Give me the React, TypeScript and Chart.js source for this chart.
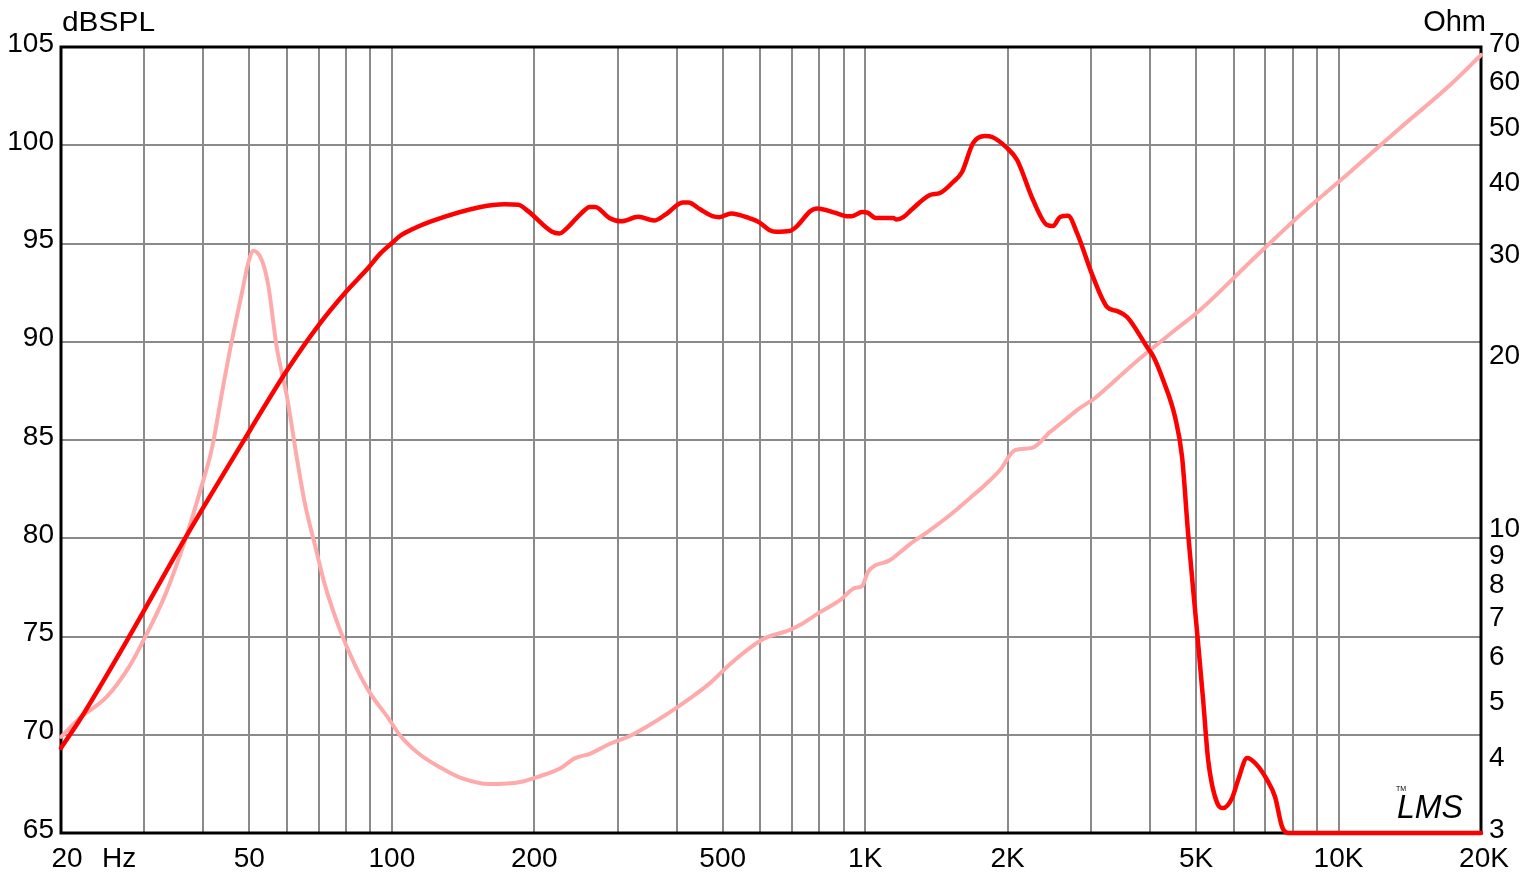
import React, { useEffect, useRef } from 'react';
import { Chart, registerables } from 'chart.js';

Chart.register(...registerables);

// ---- Data ----
const splFreq = [20, 21.9, 27.6, 36.7, 50.2, 60.1, 69.8, 79.6, 89.1, 94.4, 100.1, 104, 111.9, 121, 154, 173, 185, 194, 218, 226, 235, 250, 262, 269, 288, 305, 332, 358, 379, 412, 423, 448, 476, 492, 521, 572, 596, 627, 648, 693, 717, 766, 792, 862, 914, 937, 986, 1011, 1054, 1146, 1165, 1204, 1256, 1371, 1439, 1534, 1602, 1690, 1791, 1854, 1994, 2094, 2263, 2423, 2495, 2581, 2683, 2803, 3030, 3244, 3406, 3575, 3941, 4058, 4260, 4515, 4672, 4810, 5028, 5176, 5304, 5541, 5705, 5960, 6136, 6411, 6665, 7065, 7345, 7600, 7824, 20000];
const splDb = [69.33, 70.75, 74.82, 80.06, 85.51, 88.56, 90.8, 92.48, 93.75, 94.47, 95.03, 95.38, 95.79, 96.13, 96.86, 97.0, 96.97, 96.65, 95.6, 95.51, 95.81, 96.48, 96.86, 96.86, 96.3, 96.13, 96.36, 96.17, 96.48, 97.09, 97.09, 96.74, 96.39, 96.34, 96.53, 96.27, 96.09, 95.69, 95.6, 95.64, 95.87, 96.65, 96.78, 96.57, 96.39, 96.39, 96.6, 96.57, 96.3, 96.3, 96.22, 96.34, 96.74, 97.47, 97.57, 98.13, 98.64, 100.11, 100.47, 100.42, 99.86, 99.25, 97.21, 95.94, 95.89, 96.35, 96.41, 95.53, 93.3, 91.77, 91.56, 91.26, 89.73, 89.27, 88.05, 86.17, 84.13, 80.27, 75.18, 71.77, 68.72, 66.53, 66.27, 66.78, 67.7, 68.82, 68.56, 67.7, 66.83, 65.31, 65.0, 65.0];

const impFreq = [20, 21.9, 25.0, 28.0, 29.9, 33.2, 36.6, 39.3, 41.7, 43.8, 45.5, 48.2, 49.8, 51.0, 53.1, 54.8, 57.1, 60.1, 63.1, 65.6, 68.8, 72.2, 77.7, 83.6, 89.9, 98.2, 104, 115, 126, 139, 161, 187, 206, 227, 244, 262, 289, 319, 351, 387, 427, 470, 518, 571, 614, 694, 729, 803, 885, 952, 985, 1014, 1129, 1244, 1371, 1511, 1666, 1791, 1927, 2073, 2252, 2458, 2644, 2845, 3060, 3292, 3628, 3999, 4516, 5100, 6506, 8297, 10580, 13494, 17211, 20000];
const impOhm = [4.41, 4.75, 5.18, 5.88, 6.5, 7.79, 9.71, 11.77, 14.04, 17.57, 20.78, 26.09, 29.61, 30.95, 29.81, 26.97, 21.06, 17.15, 13.37, 11.17, 9.51, 8.11, 6.77, 5.88, 5.26, 4.76, 4.44, 4.1, 3.91, 3.75, 3.65, 3.68, 3.77, 3.89, 4.05, 4.12, 4.29, 4.43, 4.63, 4.87, 5.15, 5.47, 5.9, 6.3, 6.55, 6.77, 6.91, 7.27, 7.63, 8.01, 8.07, 8.54, 8.96, 9.55, 10.1, 10.73, 11.49, 12.1, 12.85, 13.92, 14.04, 14.96, 15.71, 16.48, 17.15, 18.07, 19.42, 20.78, 22.52, 24.4, 29.58, 35.7, 42.42, 50.6, 60.11, 67.8];

const xGridTicks = [20, 30, 40, 50, 60, 70, 80, 90, 100, 200, 300, 400, 500, 600, 700, 800, 900, 1000, 2000, 3000, 4000, 5000, 6000, 7000, 8000, 9000, 10000, 20000];
const xLabelValues = [20, 50, 100, 200, 500, 1000, 2000, 5000, 10000, 20000];
const xLabelTexts = ['20', '50', '100', '200', '500', '1K', '2K', '5K', '10K', '20K'];
const ohmTicks = [3, 4, 5, 6, 7, 8, 9, 10, 20, 30, 40, 50, 60, 70];

const FONT = '"Liberation Sans", Arial, Helvetica, sans-serif';
const W = 1531;
const H = 876;

const decorPlugin = {
  id: 'decor',
  beforeDatasetsDraw(chart: any) {
    const { ctx, chartArea: a } = chart;
    ctx.save();
    ctx.strokeStyle = '#000';
    ctx.lineWidth = 3;
    ctx.strokeRect(a.left, a.top, a.right - a.left, a.bottom - a.top);
    ctx.restore();
  },
  afterDraw(chart: any) {
    const { ctx } = chart;
    const xs = chart.scales.x;
    ctx.save();
    ctx.fillStyle = '#000';
    ctx.font = `28px ${FONT}`;
    ctx.textAlign = 'center';
    ctx.textBaseline = 'alphabetic';
    xLabelValues.forEach((v, i) => {
      let px = xs.getPixelForValue(v);
      if (i === 0) px += 6;
      if (i === xLabelValues.length - 1) px += 3;
      ctx.fillText(xLabelTexts[i], px, 867);
    });
    ctx.textAlign = 'left';
    ctx.fillText('Hz', 102, 867);

    // dBSPL title
    ctx.font = `27px ${FONT}`;
    const mw = ctx.measureText('dBSPL').width;
    ctx.save();
    ctx.translate(62, 31);
    ctx.scale(93 / mw, 1);
    ctx.fillText('dBSPL', 0, 0);
    ctx.restore();

    // Ohm title
    ctx.font = `29px ${FONT}`;
    ctx.textAlign = 'right';
    ctx.fillText('Ohm', 1486, 31);

    // LMS mark
    ctx.textAlign = 'left';
    ctx.font = `italic 34px ${FONT}`;
    const lw = ctx.measureText('LMS').width;
    ctx.save();
    ctx.translate(1397, 818);
    ctx.scale(66 / lw, 1);
    ctx.fillText('LMS', 0, 0);
    ctx.restore();
    ctx.font = `7px ${FONT}`;
    ctx.fillText('TM', 1396, 791);
    ctx.restore();
  },
};

export default function App() {
  const ref = useRef<HTMLCanvasElement | null>(null);

  useEffect(() => {
    if (!ref.current) return;
    const splData = splFreq.map((f, i) => ({ x: f, y: splDb[i] }));
    const impData = impFreq.map((f, i) => ({ x: f, y: impOhm[i] }));

    const chart = new Chart(ref.current, {
      type: 'line',
      data: {
        datasets: [
          {
            label: 'SPL',
            data: splData,
            yAxisID: 'y',
            borderColor: '#ff0000',
            borderWidth: 4.5,
            pointRadius: 0,
            cubicInterpolationMode: 'monotone',
            fill: false,
            clip: false as any,
            borderJoinStyle: 'round',
            borderCapStyle: 'round',
          },
          {
            label: 'Impedance',
            data: impData,
            yAxisID: 'y2',
            borderColor: '#ffaaaa',
            borderWidth: 4,
            pointRadius: 0,
            cubicInterpolationMode: 'monotone',
            fill: false,
            clip: false as any,
            borderJoinStyle: 'round',
            borderCapStyle: 'round',
          },
        ],
      },
      options: {
        responsive: false,
        animation: false,
        devicePixelRatio: 1,
        layout: { padding: { top: 47, left: 0, right: 0, bottom: 0 } },
        plugins: {
          legend: { display: false },
          tooltip: { enabled: false },
          title: { display: false },
        },
        events: [],
        scales: {
          x: {
            type: 'logarithmic',
            min: 20,
            max: 20000,
            afterBuildTicks: (scale: any) => {
              scale.ticks = xGridTicks.map((v) => ({ value: v }));
            },
            afterFit: (scale: any) => {
              scale.height = H - 833;
            },
            grid: { color: '#8a8a8a', lineWidth: 2, drawTicks: false },
            border: { display: false },
            ticks: { display: false, autoSkip: false },
          },
          y: {
            type: 'linear',
            position: 'left',
            min: 65,
            max: 105,
            afterBuildTicks: (scale: any) => {
              const t = [];
              for (let v = 65; v <= 105; v += 5) t.push({ value: v });
              scale.ticks = t;
            },
            afterFit: (scale: any) => {
              scale.width = 61;
            },
            grid: { color: '#8a8a8a', lineWidth: 2, drawTicks: false },
            border: { display: false },
            ticks: {
              color: '#000',
              font: { size: 28, family: FONT },
              padding: 7,
              labelOffset: -3,
              autoSkip: false,
              callback: (v: any) => String(v),
            },
          },
          y2: {
            type: 'logarithmic',
            position: 'right',
            min: 3,
            max: 70,
            afterBuildTicks: (scale: any) => {
              scale.ticks = ohmTicks.map((v) => ({ value: v }));
            },
            afterFit: (scale: any) => {
              scale.width = W - 1481;
            },
            grid: { display: false, drawTicks: false },
            border: { display: false },
            ticks: {
              color: '#000',
              font: { size: 28, family: FONT },
              padding: 8,
              labelOffset: -3,
              autoSkip: false,
              callback: (v: any) => String(v),
            },
          },
        },
      },
      plugins: [decorPlugin],
    } as any);

    return () => chart.destroy();
  }, []);

  return (
    <div style={{ position: 'absolute', left: 0, top: 0, width: W, height: H, background: '#fff' }}>
      <canvas ref={ref} width={W} height={H} style={{ display: 'block', width: W, height: H }} />
    </div>
  );
}
